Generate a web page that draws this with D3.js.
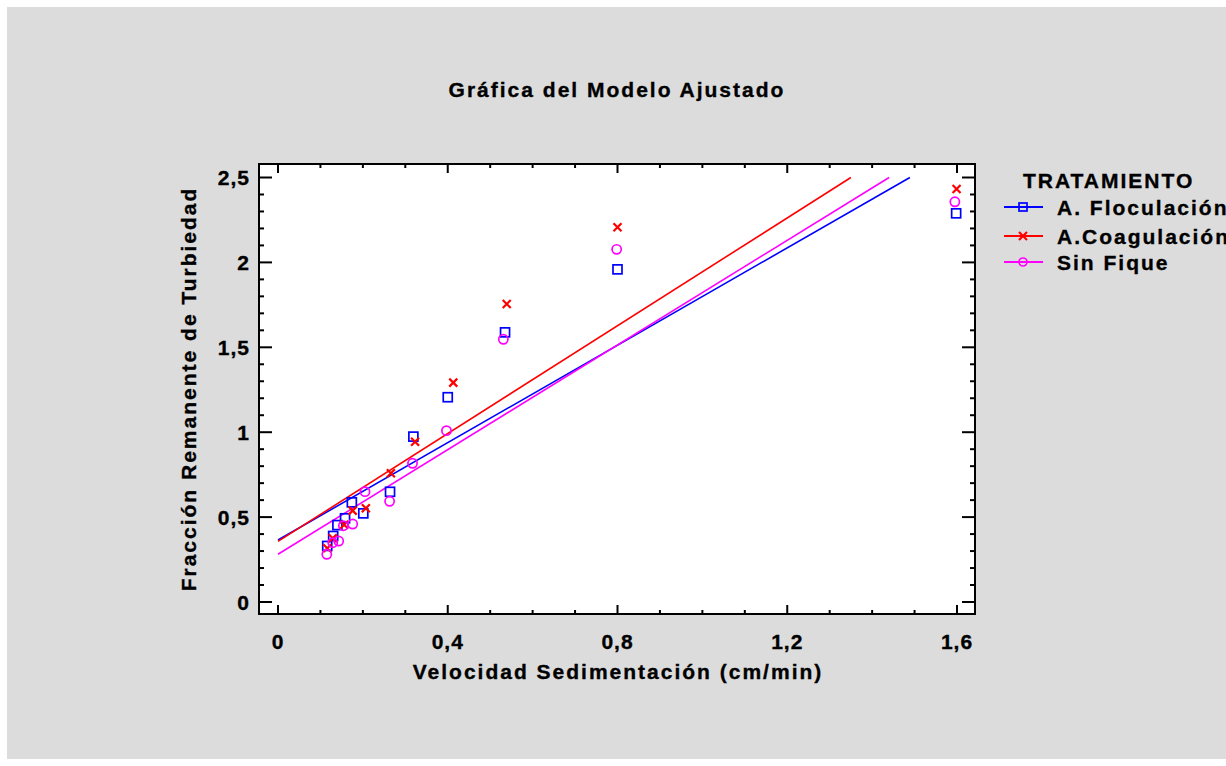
<!DOCTYPE html>
<html>
<head>
<meta charset="utf-8">
<script src="https://cdn.jsdelivr.net/npm/d3@7/dist/d3.min.js"></script>
<style>
  html, body { margin: 0; padding: 0; background: #ffffff; }
  svg { display: block; }
  text { font-family: "Liberation Sans", Arial, sans-serif; font-weight: bold; fill: #000; stroke: #000; stroke-width: 0.35px; }
</style>
</head>
<body>
<svg id="chart" width="1226" height="766"></svg>
<script>
// Treatment series
const seriesNames = ["A. Floculación", "A.Coagulación", "Sin Fique"];
const seriesColors = ["#0000ff", "#ff0000", "#ff00ff"];
const seriesSymbols = ["square", "cross", "circle"];

// Observed points: settling velocity (cm/min) and remaining turbidity fraction
const flocX = [0.116, 0.130, 0.140, 0.158, 0.174, 0.201, 0.264, 0.319, 0.400, 0.535, 0.800, 1.598];
const flocY = [0.330, 0.389, 0.453, 0.493, 0.587, 0.522, 0.649, 0.974, 1.206, 1.588, 1.959, 2.289];

const coagX = [0.116, 0.129, 0.156, 0.176, 0.207, 0.266, 0.323, 0.413, 0.539, 0.800, 1.599];
const coagY = [0.316, 0.375, 0.455, 0.538, 0.552, 0.758, 0.944, 1.292, 1.755, 2.207, 2.432];

const fiqueX = [0.115, 0.129, 0.143, 0.154, 0.176, 0.205, 0.263, 0.317, 0.397, 0.531, 0.798, 1.595];
const fiqueY = [0.281, 0.349, 0.359, 0.449, 0.459, 0.650, 0.593, 0.817, 1.009, 1.547, 2.077, 2.357];

// Fitted model lines: [x start, y start, x end, y end]
const flocFit  = [0, 0.365, 1.489, 2.5];
const coagFit  = [0, 0.357, 1.350, 2.5];
const fiqueFit = [0, 0.281, 1.440, 2.5];

// Axis ticks
const xTicks = [0, 0.4, 0.8, 1.2, 1.6];
const xTickLabels = ["0", "0,4", "0,8", "1,2", "1,6"];
const yTicks = [0, 0.5, 1, 1.5, 2, 2.5];
const yTickLabels = ["0", "0,5", "1", "1,5", "2", "2,5"];

const titleText = "Gráfica del Modelo Ajustado";
const xTitle = "Velocidad Sedimentación (cm/min)";
const yTitle = "Fracción Remanente de Turbiedad";
const legendTitle = "TRATAMIENTO";

const series = [
  { xs: flocX, ys: flocY, fit: flocFit },
  { xs: coagX, ys: coagY, fit: coagFit },
  { xs: fiqueX, ys: fiqueY, fit: fiqueFit }
].map((s, i) => ({ ...s, name: seriesNames[i], color: seriesColors[i], symbol: seriesSymbols[i] }));

const svg = d3.select("#chart");
const FS = 21;      // font size for all labels
const LS = 2.0;     // letter spacing for titles and legend

// Panel background
svg.append("rect").attr("x", 7).attr("y", 7).attr("width", 1219).attr("height", 752).attr("fill", "#dcdcdc");

// Plot frame
const frame = { left: 259, top: 164, right: 975, bottom: 614 };
const x = d3.scaleLinear().domain([0, 1.6]).range([278, 957]);
const y = d3.scaleLinear().domain([0, 2.5]).range([602, 177.5]);

svg.append("rect")
  .attr("x", frame.left).attr("y", frame.top)
  .attr("width", frame.right - frame.left).attr("height", frame.bottom - frame.top)
  .attr("fill", "#ffffff");

svg.append("clipPath").attr("id", "plotclip").append("rect")
  .attr("x", frame.left).attr("y", frame.top)
  .attr("width", frame.right - frame.left).attr("height", frame.bottom - frame.top);

// Ticks on all four sides, pointing inward
const ticksG = svg.append("g").attr("stroke", "#000");
const xMinor = d3.range(0, 17).map(i => i / 10);
const yMinor = d3.range(0, 26).map(i => i / 10);
const isMajor = (v, list) => list.some(t => Math.abs(t - v) < 1e-6);

xMinor.forEach(v => {
  const major = isMajor(v, xTicks);
  const len = major ? 9 : 4;
  const px = x(v);
  ticksG.append("line").attr("x1", px).attr("x2", px).attr("y1", frame.bottom).attr("y2", frame.bottom - len).attr("stroke-width", 2);
  ticksG.append("line").attr("x1", px).attr("x2", px).attr("y1", frame.top).attr("y2", frame.top + len).attr("stroke-width", 2);
});
yMinor.forEach(v => {
  const major = isMajor(v, yTicks);
  const len = major ? 13 : 5;
  const py = y(v);
  ticksG.append("line").attr("x1", frame.left).attr("x2", frame.left + len).attr("y1", py).attr("y2", py).attr("stroke-width", 2);
  ticksG.append("line").attr("x1", frame.right).attr("x2", frame.right - len).attr("y1", py).attr("y2", py).attr("stroke-width", 2);
});

// Fitted lines
const plotG = svg.append("g").attr("clip-path", "url(#plotclip)");
series.forEach(s => {
  plotG.append("line")
    .attr("x1", x(s.fit[0])).attr("y1", y(s.fit[1]))
    .attr("x2", x(s.fit[2])).attr("y2", y(s.fit[3]))
    .attr("stroke", s.color).attr("stroke-width", 1.6);
});

// Point symbols
function drawSymbol(g, symbol, color, cx, cy) {
  if (symbol === "square") {
    g.append("rect").attr("x", cx - 4.5).attr("y", cy - 4.5).attr("width", 9).attr("height", 9)
      .attr("fill", "none").attr("stroke", color).attr("stroke-width", 1.7);
  } else if (symbol === "circle") {
    g.append("circle").attr("cx", cx).attr("cy", cy).attr("r", 4.6)
      .attr("fill", "none").attr("stroke", color).attr("stroke-width", 1.7);
  } else {
    const r = 4;
    g.append("path")
      .attr("d", `M${cx - r},${cy - r}L${cx + r},${cy + r}M${cx - r},${cy + r}L${cx + r},${cy - r}`)
      .attr("stroke", color).attr("stroke-width", 2.2).attr("fill", "none");
  }
}
series.forEach(s => {
  s.xs.forEach((v, i) => drawSymbol(plotG, s.symbol, s.color, x(v), y(s.ys[i])));
});

// Frame border
svg.append("rect")
  .attr("x", frame.left).attr("y", frame.top)
  .attr("width", frame.right - frame.left).attr("height", frame.bottom - frame.top)
  .attr("fill", "none").attr("stroke", "#000").attr("stroke-width", 2);

// Tick labels
svg.append("g").selectAll("text").data(xTicks).join("text")
  .attr("x", d => x(d)).attr("y", 649)
  .attr("text-anchor", "middle").attr("font-size", FS).attr("letter-spacing", 1)
  .text((d, i) => xTickLabels[i]);
svg.append("g").selectAll("text").data(yTicks).join("text")
  .attr("x", 250).attr("y", d => y(d) + 7.5)
  .attr("text-anchor", "end").attr("font-size", FS).attr("letter-spacing", 1)
  .text((d, i) => yTickLabels[i]);

// Titles
svg.append("text").attr("x", 617).attr("y", 97).attr("text-anchor", "middle")
  .attr("font-size", FS).attr("letter-spacing", LS).text(titleText);
svg.append("text").attr("x", 618).attr("y", 679).attr("text-anchor", "middle")
  .attr("font-size", FS).attr("letter-spacing", LS).text(xTitle);
svg.append("text").attr("transform", "translate(196,389) rotate(-90)").attr("text-anchor", "middle")
  .attr("font-size", FS).attr("letter-spacing", LS).text(yTitle);

// Legend
const legend = svg.append("g");
legend.append("text").attr("x", 1023).attr("y", 188).attr("font-size", FS).attr("letter-spacing", LS).text(legendTitle);
const legendY = [207, 236, 262];
series.forEach((s, i) => {
  const ly = legendY[i];
  legend.append("line").attr("x1", 1004).attr("x2", 1043).attr("y1", ly).attr("y2", ly)
    .attr("stroke", s.color).attr("stroke-width", 2);
  const mg = legend.append("g");
  if (s.symbol === "square") {
    mg.append("rect").attr("x", 1019).attr("y", ly - 4).attr("width", 8).attr("height", 8)
      .attr("fill", "none").attr("stroke", s.color).attr("stroke-width", 1.7);
  } else if (s.symbol === "circle") {
    mg.append("circle").attr("cx", 1023).attr("cy", ly).attr("r", 4)
      .attr("fill", "none").attr("stroke", s.color).attr("stroke-width", 1.7);
  } else {
    drawSymbol(mg, s.symbol, s.color, 1023, ly);
  }
  legend.append("text").attr("x", 1057).attr("y", ly + 7.5).attr("font-size", FS)
    .attr("letter-spacing", LS).text(s.name);
});
</script>
</body>
</html>
